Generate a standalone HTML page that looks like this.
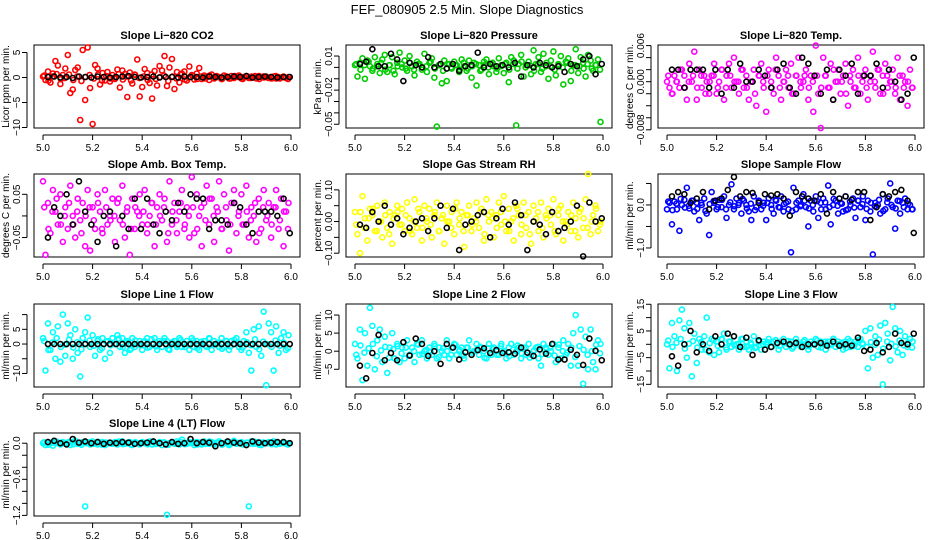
<!DOCTYPE html>
<html><head><meta charset="utf-8"><title>FEF_080905 Slope Diagnostics</title>
<style>
html,body{margin:0;padding:0;background:#fff;}
svg{display:block;font-family:"Liberation Sans",Arial,sans-serif;}
</style></head>
<body>
<svg id="chart" width="936" height="540" viewBox="0 0 936 540">
<text x="467" y="14" text-anchor="middle" font-size="13">FEF_080905  2.5 Min. Slope Diagnostics</text>
</svg>
<script>
// shared time values
const xColored = [5.00,5.01,5.02,5.03,5.04,5.05,5.06,5.07,5.08,5.09,5.10,5.11,5.12,5.13,5.14,5.15,5.16,5.17,5.18,5.19,5.20,5.21,5.22,5.23,5.24,5.25,5.26,5.27,5.28,5.29,5.30,5.31,5.32,5.33,5.34,5.35,5.36,5.37,5.38,5.39,5.40,5.41,5.42,5.43,5.44,5.45,5.46,5.47,5.48,5.49,5.50,5.51,5.52,5.53,5.54,5.55,5.56,5.57,5.58,5.59,5.60,5.61,5.62,5.63,5.64,5.65,5.66,5.67,5.68,5.69,5.70,5.71,5.72,5.73,5.74,5.75,5.76,5.77,5.78,5.79,5.80,5.81,5.82,5.83,5.84,5.85,5.86,5.87,5.88,5.89,5.90,5.91,5.92,5.93,5.94,5.95,5.96,5.97,5.98,5.99];
const xBand = [5.005,5.022,5.038,5.055,5.072,5.088,5.105,5.122,5.138,5.155,5.172,5.188,5.205,5.222,5.238,5.255,5.272,5.288,5.305,5.322,5.338,5.355,5.372,5.388,5.405,5.422,5.438,5.455,5.472,5.488,5.505,5.522,5.538,5.555,5.572,5.588,5.605,5.622,5.638,5.655,5.672,5.688,5.705,5.722,5.738,5.755,5.772,5.788,5.805,5.822,5.838,5.855,5.872,5.888,5.905,5.922,5.938,5.955,5.972,5.988];
const xBlack = [5.02,5.045,5.07,5.095,5.12,5.145,5.17,5.195,5.22,5.245,5.27,5.295,5.32,5.345,5.37,5.395,5.42,5.445,5.47,5.495,5.52,5.545,5.57,5.595,5.62,5.645,5.67,5.695,5.72,5.745,5.77,5.795,5.82,5.845,5.87,5.895,5.92,5.945,5.97,5.995];
const xTicks = [5.0,5.2,5.4,5.6,5.8,6.0];
const xTickLabels = ["5.0","5.2","5.4","5.6","5.8","6.0"];

// panel 1 CO2
const co2Colored = [0.2,-0.5,1.2,-1.0,0.8,3.3,2.4,-1.3,0.5,1.8, 4.5,-3.1,-2.4,1.5,2.0,-8.5,5.5,-4.5,6.0,-2.1, -9.3,2.5,1.8,-1.4,0.9,-0.6,1.1,-0.8,0.5,-0.3, 1.6,-2.0,1.4,0.7,-3.9,1.0,-1.2,0.6,3.6,-3.8, -1.9,1.7,0.9,-1.1,-4.2,1.3,-1.6,2.3,1.4,4.3, -1.7,2.0,3.7,-2.3,1.1,-1.0,0.8,1.2,-0.6,2.2, 0.5,-0.4,0.8,1.9,-0.3,0.4,0.2,-0.5,0.6,-0.2, 0.3,0.1,-0.3,0.4,0.2,-0.2,0.3,-0.1,0.2,0.4, -0.2,0.1,0.3,-0.1,0.2,0.1,-0.2,0.3,0.1,0.0, 0.2,-0.1,0.1,0.2,-0.2,0.1,0.0,0.2,-0.1,0.1];
const co2Band = [0.4,-0.6,0.2,0.7,-0.3,-0.1,0.6,-0.5,0.2,-0.7,0.1,0.5,-0.2,0.6,-0.6,0.3,-0.2,0.0,0.7,-0.4,0.2,-0.6,0.5,-0.1,0.2,-0.5,0.6,-0.3,0.1,0.4,-0.7,0.2,-0.2,0.6,-0.4,0.0,0.3,-0.3,0.2,-0.2,0.4,-0.1,0.1,-0.3,0.2,-0.2,0.3,0.1,-0.3,0.2,-0.1,0.3,-0.3,0.2,0.0,-0.2,0.3,-0.2,0.1,-0.3];
const co2Black = [0.1,0.2,0.0,0.1,-0.1,0.2,0.1,0.0,0.2,0.1, 0.0,0.1,0.2,0.3,0.1,0.0,0.1,0.2,0.0,0.1, 0.1,0.0,0.2,0.1,0.1,0.0,0.2,0.1,0.0,0.1, 0.2,0.1,0.3,0.0,0.1,0.2,0.1,0.0,0.1,0.1];
const co2Ticks = [5,0,-5,-10];
const co2TickLabels = ["5","0","\u22125","\u221210"];

// panel 2 Pressure
const presColored = [.002,-.008,.004,.008,-.010,.006,.001,-.003,.009,.003, -.005,.007,.011,-.004,.002,.009,-.006,.004,.013,.000, .006,-.003,.010,.001,-.007,.005,.003,-.002,.012,-.004, .004,.008,-.009,-.052,.002,-.014,.006,-.012,.003,-.001, .005,.002,-.004,.007,.001,-.003,.006,-.009,.004,-.016, .002,-.002,.005,.007,-.006,.003,.001,-.004,.008,.002, -.005,.004,-.013,.009,.006,-.051,.003,.011,-.008,.002, .005,-.006,.015,.003,.009,-.004,.012,.001,-.010,.006, .014,-.007,.003,.010,-.015,.005,.008,-.012,.002,.016, -.005,.009,.004,-.008,.011,.006,-.003,.002,.007,-.048];
const presBand = [.003,-.002,.002,.005,-.001,.001,.004,-.002,.002,-.003,.001,.003,-.001,.004,-.002,.003,.000,.001,.005,-.001,.002,-.003,.003,.000,.002,-.002,.004,-.001,.001,.003,-.003,.002,.000,.004,-.001,.001,.003,-.002,.003,-.001,.005,.000,.002,-.003,.003,-.001,.004,.001,-.002,.002,.000,.004,-.003,.002,.001,-.001,.003,-.001,.002,-.002];
const presBlack = [.003,.005,.016,.001,.001,.012,.007,-.012,.004,.002, .000,.009,.000,.003,-.001,.003,-.003,.001,.002,.013, .000,.003,.001,.002,.000,.004,-.008,.002,.000,.004, .002,.000,.001,-.004,.003,.001,.007,.010,-.006,.003];
const presTicks = [.01,0,-.01,-.02,-.03,-.04,-.05];
const presTickLabels = ["0.01","","","\u22120.02","","","\u22120.05"];

// panel 3 Li-820 Temp
const tempColored = [.000,-.001,-.002,.001,.000,-.001,.002,.001,-.003,.003, .000,.005,-.003,.002,-.001,.001,.000,-.002,.001,.003, -.002,.000,.002,-.003,.001,.003,-.001,.004,.000,-.002, .002,-.001,.001,-.003,.000,.002,-.004,.001,.003,-.001, -.005,.002,.000,-.002,.004,.001,-.003,.000,.002,-.001, .003,-.002,.001,.004,-.001,.000,.002,-.003,.001,-.005, .006,-.002,-.0077,.004,.001,-.001,.003,-.003,.000,.002, -.002,.001,.003,-.004,.000,.002,-.001,.004,-.002,.001, .002,-.003,.000,.005,-.001,.002,-.002,.001,.003,-.001, .000,.002,-.002,.004,-.003,.001,.000,-.004,.002,-.001];
const tempBand = [.001,-.002,.000,.002,-.001,.000,.001,-.001,.001,-.002,.000,.001,-.001,.002,-.001,.001,.000,.000,.002,-.001,.000,-.002,.001,.000,.001,-.001,.002,-.001,.000,.001,-.002,.001,.000,.001,-.001,.000,.001,-.001,.001,-.001,.002,.000,.000,-.002,.001,-.001,.001,.000,-.001,.001,.000,.002,-.002,.001,.000,-.001,.001,-.001,.000,-.001];
const tempBlack = [.002,.002,-.001,.002,.002,.002,-.001,.002,-.002,.002, -.001,.003,.000,.000,.002,.001,-.001,.002,.003,-.001, -.002,.004,.003,.001,-.002,.002,-.003,.002,.001,.003, -.002,.001,.001,.003,-.001,.002,.000,-.003,-.002,.004];
const tempTicks = [.006,.004,.002,0,-.002,-.004,-.006,-.008];
const tempTickLabels = ["0.006","","","0.000","","","","\u22120.008"];

// panel 4 Amb Box Temp
const ambColored = [.08,-.09,.03,-.04,.06,.01,-.02,.05,-.06,.02, -.03,.07,.00,-.05,.04,-.01,.03,-.07,.06,-.08, .02,-.03,.05,.01,-.04,.06,-.02,.00,.04,-.06, .03,-.01,.07,-.05,.02,-.09,.04,-.03,.01,.05, -.02,.06,-.04,.00,.03,-.07,.02,.05,-.01,.04, -.06,.08,-.02,.03,-.04,.01,.06,-.03,.02,-.05, .09,-.04,.05,.00,-.07,.03,.07,-.02,.04,-.06, .02,.08,-.03,.05,-.01,-.08,.03,.06,-.04,.01, .05,-.02,.07,-.05,.02,.00,-.06,.04,-.03,.06, -.01,.03,-.05,.02,.06,-.03,.04,-.07,.01,.03];
const ambBand = [.02,-.03,.01,.04,-.02,.00,.03,-.02,.01,-.04,.00,.02,-.01,.03,-.03,.02,-.01,.00,.04,-.02,.01,-.03,.02,.00,.01,-.02,.03,-.02,.00,.02,-.04,.01,-.01,.03,-.02,.00,.02,-.03,.02,-.01,.04,.00,.01,-.03,.02,-.02,.03,.00,-.02,.01,-.01,.03,-.04,.02,.00,-.02,.02,-.01,.01,-.03];
const ambBlack = [-.05,.02,.00,.05,-.02,.08,.01,-.02,-.06,.00, .01,-.07,.00,-.03,.04,-.03,.04,-.02,-.04,.01, -.01,.03,.01,.05,.04,.04,-.03,-.01,-.01,-.02, .03,.02,-.02,-.04,.01,.01,.01,.00,.04,-.04];
const ambTicks = [.05,0,-.05];
const ambTickLabels = ["0.05","","\u22120.05"];

// panel 5 Gas Stream RH
const rhColored = [.03,-.04,-.10,.08,.01,-.06,.04,.02,-.03,.05, .00,-.05,.06,-.02,.03,-.07,.02,.05,-.01,.04, -.03,.06,.01,-.04,.07,-.02,.03,-.06,.05,.00, .04,-.05,.02,.06,-.03,.01,-.07,.05,.00,.03, -.04,.06,-.01,.03,-.08,.02,.05,-.03,.01,.06, -.02,.04,-.06,.07,.00,.03,-.05,.02,.06,-.01, .08,-.03,.04,.00,-.06,.05,.02,-.04,.06,-.02, .03,-.07,.05,.01,-.03,.06,-.05,.02,.04,-.01, .07,-.04,.02,.05,-.06,.00,.03,-.03,.06,.01, -.05,.04,-.02,.07,.15,-.04,.02,.05,-.03,.00];
const rhBand = [-.01,.03,-.02,.01,.04,-.03,.00,.02,-.04,.01,.03,-.01,.02,-.03,.00,.04,-.02,.01,-.01,.03,-.03,.02,.00,-.02,.04,.01,-.03,.02,-.01,.00,.03,-.04,.02,.01,-.02,.03,.00,-.03,.01,.04,-.01,.02,-.04,.00,.03,-.02,.01,.02,-.03,.04,.00,-.01,.02,-.03,.03,.01,-.02,.00,.04,-.01];
const rhBlack = [-.01,-.02,.03,.00,.05,-.01,.01,-.04,-.02,.00, .01,-.03,.01,.05,-.02,.04,-.09,-.01,.00,.02, .03,-.05,.01,.04,-.01,.06,.02,-.09,.00,-.01, -.04,.03,-.03,-.02,.00,.05,-.11,.06,.00,.01];
const rhTicks = [.10,.05,0,-.05,-.10];
const rhTickLabels = ["0.10","","0.00","","\u22120.10"];

// panel 6 Sample Flow
const sampleColored = [-.1,.05,-.45,.08,-.1,-.6,.0,.12,.4,-.08, .1,-.15,.05,-.35,.0,.15,-.2,-.7,.3,.05, -.1,.12,-.05,.2,-.3,.0,.48,-.1,.15,.05, -.2,.1,.0,-.15,-.35,.2,-.05,.1,-.1,.05, -.35,.15,.0,-.2,.1,-.05,.2,-.15,.05,-.1, -1.1,.4,-.1,.1,.0,.25,-.05,-.5,.1,-.15, .2,-.3,.05,.15,-.1,.45,-.45,.0,.1,-.2, .05,-.15,.2,-.1,.0,.15,-.3,.1,-.05,.2, -.35,.1,-.15,-1.15,.05,.0,-.2,.25,-.1,.15, .5,-.05,-.55,.1,-.2,.05,.15,-.1,.0,-.1];
const sampleBand = [.08,-.12,.03,.14,-.06,-.02,.1,-.09,.05,-.14,.02,.09,-.05,.12,-.1,.06,-.03,.0,.14,-.08,.03,-.12,.09,-.02,.05,-.09,.12,-.06,.02,.08,-.14,.05,-.03,.1,-.08,.0,.09,-.1,.06,-.05,.14,-.02,.03,-.12,.08,-.06,.1,.02,-.09,.05,-.03,.12,-.14,.06,.0,-.08,.09,-.05,.03,-.1];
const sampleBlack = [.2,.3,.25,.05,.15,.3,-.1,.1,.15,.35, .65,.2,.3,.28,.05,.25,.22,.25,.15,-.25, .3,.2,.15,.1,.25,-.2,.3,.15,.2,.12, .3,.3,-.35,-.05,.25,.2,.3,.35,.1,-.65];
const sampleTicks = [.5,0,-.5,-1.0];
const sampleTickLabels = ["","0.0","","\u22121.0"];

// panel 7 Line 1 Flow
const line1Colored = [2,-9,7,-2,4,-5,6,-6,10,-4, 7,3,-5,5,-3,-11,2,4,9,-1, 3,-4,1,-2,2,-5,1,-3,2,0, 3,-1,2,-3,1,-2,2,-1,0,1, -2,1,2,-1,0,2,-2,1,-1,2, 1,-2,0,1,-1,2,-1,0,1,-2, 2,-1,1,-2,0,1,-1,2,-2,1, 0,-1,2,-1,1,-2,1,0,2,-1, -2,1,4,-3,-9,5,-1,6,-4,11, -14,7,4,-9,6,-3,2,4,-2,3];
const line1Band = [1,-2,0.5,2,-1,-0.2,1.5,-1.2,0.6,-1.8,0.2,1.2,-0.6,1.6,-1.4,0.8,-0.4,0,1.8,-1,0.4,-1.6,1.2,-0.2,0.6,-1.2,1.6,-0.8,0.2,1,-1.8,0.6,-0.4,1.4,-1,0,1.2,-1.4,0.8,-0.6,1.8,-0.2,0.4,-1.6,1,-0.8,1.4,0.2,-1.2,0.6,-0.4,1.6,-1.8,0.8,0,-1,1.2,-0.6,0.4,-1.4];
const line1Black = [0,0,0,0,0,0,0,0,0,0, 0,0,0,0,0,0,0,0,0,0, 0,0,0,0,0,0,0,0,0,0, 0,0,0,0,0,0,0,0,0,0];
const line1Ticks = [10,5,0,-5,-10];
const line1TickLabels = ["","5","0","","\u221210"];

// panel 8 Line 2 Flow
const line2Colored = [2,-2,6,-8,5,-4,12,7,-5,3, 6,-3,4,-6,1,5,-2,2,-3,1, -2,3,-1,1,-3,2,-1,3,0,-2, 1,-1,2,-2,1,0,-1,3,-2,1, 2,-1,0,1,-2,1,3,-1,0,2, -1,1,0,-2,2,-1,1,0,-1,2, 0,-2,1,2,-1,0,1,-2,1,-1, 2,-1,0,1,-2,-4,2,1,-1,0, 2,-3,1,-2,3,-1,2,-4,5,10, -4,6,-9,4,-5,6,-3,-5,3,2];
const line2Band = [-1,1.6,-0.4,0.8,2,-1.4,0.2,1.2,-1.8,0.6,1.4,-0.6,1,-1.2,0,1.8,-0.8,0.4,-0.2,1.4,-1.6,0.8,0,-1,1.8,0.4,-1.2,1,-0.4,0.2,1.2,-1.8,0.8,0.6,-1,1.4,0,-1.4,0.4,1.6,-0.6,1,-1.8,0.2,1.2,-0.8,0.6,1,-1.2,1.8,0,-0.4,1,-1.6,1.4,0.4,-1,0,1.8,-0.6];
const line2Black = [-4,-7.5,-0.5,4.5,-2.5,-0.5,-2.5,2.5,-1.2,3.5, 2,-1.3,0,-3.5,2,1,-2.3,-0.3,-1,0.3, 0.8,-0.5,0.3,-0.5,-0.3,-0.7,1,-0.4,-1.3,0.5, -0.7,2,-2.3,-2.3,0.4,-1,-3.8,3.5,0.1,-2.5];
const line2Ticks = [10,5,0,-5];
const line2TickLabels = ["10","5","0","\u22125"];

// panel 9 Line 3 Flow
const line3Colored = [0,-9,8,3,-10,9,13,6,-5,8, -12,4,-7,2,-2,3,10,-3,2,-4, 1,-3,2,4,-2,1,-1,3,0,-2, 2,-1,1,-2,0,3,-1,1,-2,1, 0,2,-1,1,0,-2,1,2,-1,0, 1,-1,2,0,-1,1,0,-2,1,0, 2,-1,1,0,-2,1,0,2,-1,1, 0,-2,1,2,-1,0,1,-1,2,0, 5,-9,6,-5,3,-4,7,-15,8,4, -6,14,6,-3,5,-4,3,-1,2,1];
const line3Band = [1.4,-1,0.6,2,-1.6,0.2,1.2,-1.2,0.8,-2,0.4,1.6,-0.6,1.8,-1.2,1,-0.4,0.2,2,-1,0.6,-1.4,1.4,0,0.8,-1,1.6,-0.6,0.4,1.2,-1.6,0.8,-0.2,1.6,-0.8,0.2,1.4,-1.2,1,-0.4,2,0,0.6,-1.4,1.2,-0.6,1.6,0.4,-1,0.8,-0.2,1.8,-1.6,1,0.2,-0.8,1.4,-0.4,0.6,-1.2];
const line3Black = [-4.5,-8,0,5,-3,0,-2.5,3,0,4, 3,-1,2.5,-4,1.5,-2,-1,0.5,1,0, 0.5,-1,0,0,0.5,-0.5,1,-0.5,0,-0.5, 2.5,-2.5,-2,0.5,-3,-1,4,0.5,0,4];
const line3Ticks = [15,10,5,0,-5,-10,-15];
const line3TickLabels = ["15","","5","","\u22125","","\u221215"];

// panel 10 Line 4 (LT) Flow
const line4Colored = [0.00,-0.03,0.02,0.01,-0.04,0.03,0.00,-0.02,0.02,-0.01, 0.01,-0.03,0.02,0.04,-0.01,0.00,0.02,-1.05,0.01,-0.02, 0.03,0.00,-0.02,0.01,0.02,-0.03,0.00,0.01,-0.01,0.02, -0.02,0.01,0.03,-0.01,0.00,0.02,-0.03,0.01,0.00,-0.02, 0.02,0.00,-0.01,0.03,-0.02,0.01,0.00,0.02,-0.03,0.01, -1.19,0.00,0.02,-0.01,0.03,-0.02,0.06,0.01,-0.01,0.02, 0.00,-0.03,0.02,0.01,-0.02,0.03,0.00,-0.01,0.02,-0.02, 0.01,0.03,-0.01,0.00,0.02,-0.03,0.01,0.04,-0.01,0.00, 0.02,-0.02,0.01,-1.05,0.03,-0.01,0.00,0.02,-0.03,0.01, 0.00,0.02,-0.01,0.03,-0.02,0.01,0.00,0.02,-0.01,0.00];
const line4Band = [.015,-.024,.006,.027,-.012,-.003,.021,-.018,.009,-.027,.003,.018,-.009,.024,-.021,.012,-.006,.0,.027,-.015,.006,-.024,.018,-.003,.009,-.018,.024,-.012,.003,.015,-.027,.009,-.006,.021,-.015,.0,.018,-.021,.012,-.009,.027,-.003,.006,-.024,.015,-.012,.021,.003,-.018,.009,-.006,.024,-.027,.012,.0,-.015,.018,-.009,.006,-.021];
const line4Black = [0.02,0.04,0.00,-0.02,0.07,0.01,0.03,0.00,0.02,-0.01, 0.01,0.00,0.02,0.01,-0.01,0.00,0.01,0.03,0.00,-0.02, 0.02,-0.01,0.00,0.07,0.00,0.02,0.01,-0.05,0.00,0.03, 0.01,0.00,-0.03,0.03,0.01,0.00,0.01,0.02,0.02,0.00];
const line4Ticks = [0,-0.2,-0.4,-0.6,-0.8,-1.0,-1.2];
const line4TickLabels = ["0.0","","","\u22120.6","","","\u22121.2"];

const NS = "http://www.w3.org/2000/svg";
const svg = document.getElementById("chart");

function mk(tag, attrs, parent) {
  const e = document.createElementNS(NS, tag);
  for (const k in attrs) e.setAttribute(k, attrs[k]);
  parent.appendChild(e);
  return e;
}

function panel(opt) {
  const g = mk("g", {}, svg);
  
  
  const L = opt.left, T = opt.top, W = 266, H = 83;
  const xs = v => L + 9 + (v - 5.0) / 1.0 * 248;
  const ys = v => T + (opt.ymax - v) / (opt.ymax - opt.ymin) * H;

  const title = mk("text", {x: L + W / 2, y: T - 6, "text-anchor": "middle", "font-size": "11", "font-weight": "bold"}, g);
  title.textContent = opt.title;
  
  

  const box = mk("rect", {x: L, y: T, width: W, height: H, fill: "none", stroke: "#000", "stroke-width": "1"}, g);
  
  

  const xa = mk("g", {}, g);
  
  
  mk("line", {x1: xs(xTicks[0]), x2: xs(xTicks[xTicks.length - 1]), y1: T + H + 7, y2: T + H + 7, stroke: "#000"}, xa);
  xTicks.forEach((v, i) => {
    mk("line", {x1: xs(v), x2: xs(v), y1: T + H + 7, y2: T + H + 12, stroke: "#000"}, xa);
    const t = mk("text", {x: xs(v), y: T + H + 23, "text-anchor": "middle", "font-size": "10"}, xa);
    t.textContent = xTickLabels[i];
    
    
  });

  const ya = mk("g", {}, g);
  
  
  const yt = opt.yticks;
  mk("line", {x1: L - 7, x2: L - 7, y1: ys(yt[0]), y2: ys(yt[yt.length - 1]), stroke: "#000"}, ya);
  yt.forEach((v, i) => {
    mk("line", {x1: L - 12, x2: L - 7, y1: ys(v), y2: ys(v), stroke: "#000"}, ya);
    if (opt.ylabels[i]) {
      const tx = L - 14, ty = ys(v);
      const t = mk("text", {x: tx, y: ty, "text-anchor": "middle", "font-size": "10", transform: "rotate(-90 " + tx + " " + ty + ")"}, ya);
      t.textContent = opt.ylabels[i];
      
      
    }
  });
  const lx = L - 25, ly = T + H / 2;
  const yl = mk("text", {x: lx, y: ly, "text-anchor": "middle", "font-size": "10", transform: "rotate(-90 " + lx + " " + ly + ")"}, g);
  yl.textContent = opt.ylab;
  
  

  const pc = mk("g", {fill: "none", stroke: opt.color, "stroke-width": "1.6"}, g);
  
  
  const n0 = Math.min(xBand.length, opt.band.length);
  for (let i = 0; i < n0; i++) {
    const c = mk("circle", {cx: xs(xBand[i]), cy: ys(opt.band[i]), r: 2.5}, pc);
    
    
  }
  const n1 = Math.min(xColored.length, opt.colored.length);
  for (let i = 0; i < n1; i++) {
    const c = mk("circle", {cx: xs(xColored[i]), cy: ys(opt.colored[i]), r: 2.5}, pc);
    
    
  }
  const pb = mk("g", {fill: "none", stroke: "#000", "stroke-width": "1.6"}, g);
  
  
  const n2 = Math.min(xBlack.length, opt.black.length);
  for (let i = 0; i < n2; i++) {
    const c = mk("circle", {cx: xs(xBlack[i]), cy: ys(opt.black[i]), r: 2.5}, pb);
    
    
  }
}

const C1 = 34, C2 = 346, C3 = 658;
const R1 = 45, R2 = 174, R3 = 304, R4 = 433;

panel({name: "li820-co2", title: "Slope Li\u2212820 CO2", left: C1, top: R1, ymin: -10.1, ymax: 6.5, yticks: co2Ticks, ylabels: co2TickLabels, ylab: "Licor ppm per min.", color: "#ff0000", colored: co2Colored, band: co2Band, black: co2Black});
panel({name: "li820-pressure", title: "Slope Li\u2212820 Pressure", left: C2, top: R1, ymin: -0.0533, ymax: 0.0197, yticks: presTicks, ylabels: presTickLabels, ylab: "kPa per min.", color: "#00cd00", colored: presColored, band: presBand, black: presBlack});
panel({name: "li820-temp", title: "Slope Li\u2212820 Temp.", left: C3, top: R1, ymin: -0.0077, ymax: 0.0061, yticks: tempTicks, ylabels: tempTickLabels, ylab: "degrees C per min.", color: "#ff00ff", colored: tempColored, band: tempBand, black: tempBlack});
panel({name: "amb-box-temp", title: "Slope Amb. Box Temp.", left: C1, top: R2, ymin: -0.095, ymax: 0.097, yticks: ambTicks, ylabels: ambTickLabels, ylab: "degrees C per min.", color: "#ff00ff", colored: ambColored, band: ambBand, black: ambBlack});
panel({name: "gas-stream-rh", title: "Slope Gas Stream RH", left: C2, top: R2, ymin: -0.112, ymax: 0.15, yticks: rhTicks, ylabels: rhTickLabels, ylab: "percent per min.", color: "#ffff00", colored: rhColored, band: rhBand, black: rhBlack});
panel({name: "sample-flow", title: "Slope Sample Flow", left: C3, top: R2, ymin: -1.21, ymax: 0.72, yticks: sampleTicks, ylabels: sampleTickLabels, ylab: "ml/min per min.", color: "#0000ff", colored: sampleColored, band: sampleBand, black: sampleBlack});
panel({name: "line1-flow", title: "Slope Line 1 Flow", left: C1, top: R3, ymin: -14.6, ymax: 13.6, yticks: line1Ticks, ylabels: line1TickLabels, ylab: "ml/min per min.", color: "#00ffff", colored: line1Colored, band: line1Band, black: line1Black});
panel({name: "line2-flow", title: "Slope Line 2 Flow", left: C2, top: R3, ymin: -9.9, ymax: 13.05, yticks: line2Ticks, ylabels: line2TickLabels, ylab: "ml/min per min.", color: "#00ffff", colored: line2Colored, band: line2Band, black: line2Black});
panel({name: "line3-flow", title: "Slope Line 3 Flow", left: C3, top: R3, ymin: -16, ymax: 15.1, yticks: line3Ticks, ylabels: line3TickLabels, ylab: "ml/min per min.", color: "#00ffff", colored: line3Colored, band: line3Band, black: line3Black});
panel({name: "line4-lt-flow", title: "Slope Line 4 (LT) Flow", left: C1, top: R4, ymin: -1.21, ymax: 0.17, yticks: line4Ticks, ylabels: line4TickLabels, ylab: "ml/min per min.", color: "#00ffff", colored: line4Colored, band: line4Band, black: line4Black});
</script>
</body></html>
